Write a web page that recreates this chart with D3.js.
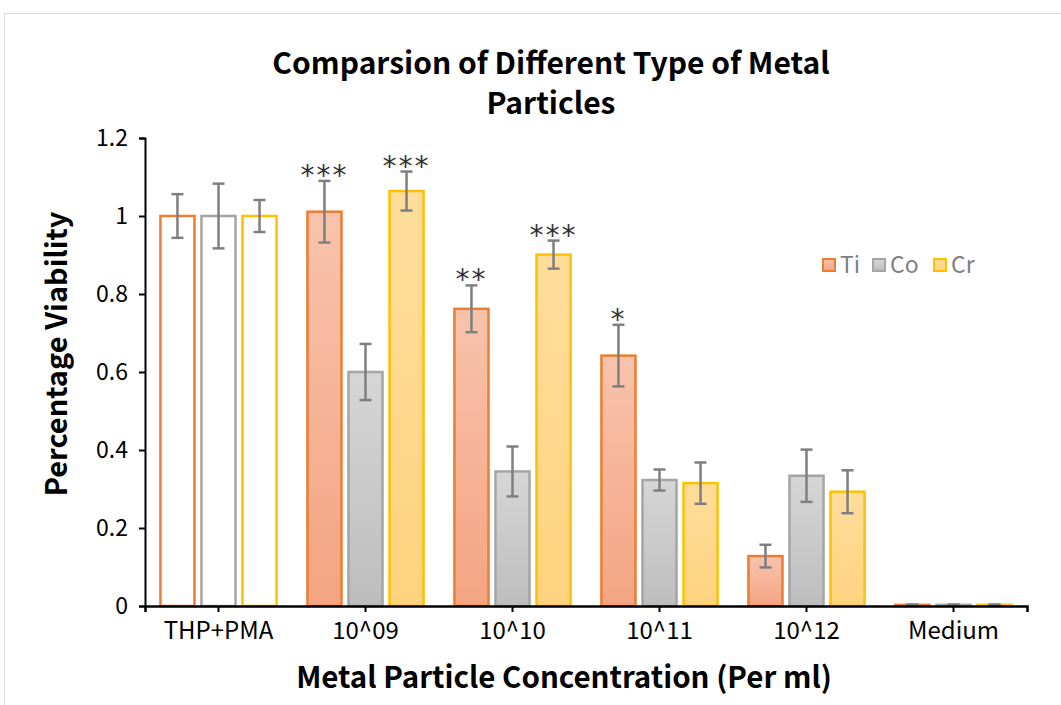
<!DOCTYPE html>
<html>
<head>
<meta charset="utf-8">
<script src="https://cdn.jsdelivr.net/npm/d3@7"></script>
<style>
  body { margin: 0; background: #fff; }
  text { font-family: "Noto Sans CJK SC", "Noto Sans", sans-serif; }
</style>
</head>
<body>
<div id="chart"></div>
<script>
const categories = ["THP+PMA", "10^09", "10^10", "10^11", "10^12", "Medium"];
const series = ["Ti", "Co", "Cr"];
const tiValues = [1.0, 1.011, 0.762, 0.642, 0.128, 0.003];
const coValues = [1.0, 0.600, 0.345, 0.323, 0.334, 0.003];
const crValues = [1.0, 1.064, 0.901, 0.315, 0.293, 0.003];
const tiErrors = [0.056, 0.079, 0.060, 0.079, 0.029, 0.001];
const coErrors = [0.083, 0.072, 0.064, 0.027, 0.067, 0.001];
const crErrors = [0.041, 0.050, 0.036, 0.053, 0.055, 0.001];
// significance marks, index = category
const tiStars = ["", "***", "**", "*", "", ""];
const coStars = ["", "", "", "", "", ""];
const crStars = ["", "***", "***", "", "", ""];
const yTicks = [0, 0.2, 0.4, 0.6, 0.8, 1, 1.2];

const width = 1061, height = 705;
const stroke = { Ti: "#ED7D31", Co: "#A5A5A5", Cr: "#FFC000" };
const gradTop = { Ti: "#F8C3AD", Co: "#D6D6D6", Cr: "#FFDD9C" };
const gradBot = { Ti: "#F4A482", Co: "#BDBDBD", Cr: "#FFD37F" };

const vals = { Ti: tiValues, Co: coValues, Cr: crValues };
const errs = { Ti: tiErrors, Co: coErrors, Cr: crErrors };
const stars = { Ti: tiStars, Co: coStars, Cr: crStars };

const rows = [];
categories.forEach((c, i) => {
  series.forEach(s => {
    rows.push({ cat: c, idx: i, s: s, v: vals[s][i], e: errs[s][i], star: stars[s][i] });
  });
});

const svg = d3.select("#chart").append("svg")
  .attr("width", width)
  .attr("height", height);

svg.append("rect").attr("width", width).attr("height", height).attr("fill", "#fff");
svg.append("rect")
  .attr("x", 4.5).attr("y", 13.5)
  .attr("width", width + 10).attr("height", height + 10)
  .attr("fill", "none").attr("stroke", "#d9d9d9").attr("stroke-width", 1);

const defs = svg.append("defs");
series.forEach(s => {
  const g = defs.append("linearGradient").attr("id", "grad-" + s)
    .attr("x1", 0).attr("y1", 0).attr("x2", 0).attr("y2", 1);
  g.append("stop").attr("offset", "0%").attr("stop-color", gradTop[s]);
  g.append("stop").attr("offset", "100%").attr("stop-color", gradBot[s]);
});

const x0 = d3.scaleBand()
  .domain(categories)
  .range([145, 1027])
  .paddingInner(0.21)
  .paddingOuter(0.105);

const x1 = d3.scaleBand()
  .domain(series)
  .range([0, x0.bandwidth()])
  .paddingInner(0.17);

const y = d3.scaleLinear().domain([0, 1.2]).range([606, 138]);

// bars
svg.append("g").selectAll("rect")
  .data(rows)
  .join("rect")
  .attr("x", d => x0(d.cat) + x1(d.s))
  .attr("y", d => y(d.v))
  .attr("width", x1.bandwidth())
  .attr("height", d => y(0) - y(d.v))
  .attr("fill", d => d.idx === 0 ? "#fff" : `url(#grad-${d.s})`)
  .attr("stroke", d => stroke[d.s])
  .attr("stroke-width", 2.5);

// error bars
const eb = svg.append("g").attr("stroke", "#7F7F7F").attr("stroke-width", 2.5).attr("fill", "none");
const cx = d => x0(d.cat) + x1(d.s) + x1.bandwidth() / 2;
eb.selectAll(".v").data(rows).join("line")
  .attr("x1", cx).attr("x2", cx)
  .attr("y1", d => y(d.v + d.e)).attr("y2", d => y(d.v - d.e));
eb.selectAll(".t").data(rows).join("line")
  .attr("x1", d => cx(d) - 6).attr("x2", d => cx(d) + 6)
  .attr("y1", d => y(d.v + d.e)).attr("y2", d => y(d.v + d.e));
eb.selectAll(".b").data(rows).join("line")
  .attr("x1", d => cx(d) - 6).attr("x2", d => cx(d) + 6)
  .attr("y1", d => y(d.v - d.e)).attr("y2", d => y(d.v - d.e));

// stars
svg.append("g").selectAll("text")
  .data(rows.filter(d => d.star))
  .join("text")
  .attr("x", cx)
  .attr("y", d => y(d.v + d.e) + 4)
  .attr("text-anchor", "middle")
  .attr("fill", "#333")
  .attr("font-size", 28)
  .attr("letter-spacing", 2)
  .style("font-family", "'DejaVu Sans', sans-serif")
  .text(d => d.star);

// y axis
const yAxis = svg.append("g")
  .attr("transform", "translate(145,0)")
  .call(d3.axisLeft(y).tickValues(yTicks).tickSize(6).tickPadding(11).tickFormat(d => d3.format("")(d)));
yAxis.select(".domain").attr("stroke", "#000").attr("stroke-width", 2);
yAxis.selectAll(".tick line").attr("stroke", "#000").attr("stroke-width", 2);
yAxis.selectAll(".tick text")
  .attr("font-size", 23).attr("fill", "#000")
  .style("font-family", "'Noto Sans CJK SC', sans-serif");

// x axis
const xAxis = svg.append("g")
  .attr("transform", `translate(0,${y(0)})`)
  .call(d3.axisBottom(x0).tickSize(6).tickPadding(10).tickSizeOuter(6));
xAxis.select(".domain").attr("stroke", "#000").attr("stroke-width", 2.5);
xAxis.selectAll(".tick line").attr("stroke", "#000").attr("stroke-width", 2);
xAxis.selectAll(".tick text")
  .attr("font-size", 24).attr("fill", "#000")
  .style("font-family", "'Noto Sans CJK SC', sans-serif");

// title
const title = svg.append("text")
  .attr("text-anchor", "middle")
  .attr("font-size", 30).attr("font-weight", "bold").attr("fill", "#000");
title.append("tspan").attr("x", 551).attr("y", 74).text("Comparsion of Different Type of Metal");
title.append("tspan").attr("x", 551).attr("y", 114).text("Particles");

// axis titles
svg.append("text")
  .attr("x", 564).attr("y", 688)
  .attr("text-anchor", "middle")
  .attr("font-size", 29.5).attr("font-weight", "bold").attr("fill", "#000")
  .text("Metal Particle Concentration (Per ml)");

svg.append("text")
  .attr("transform", "translate(67,354) rotate(-90)")
  .attr("text-anchor", "middle")
  .attr("font-size", 29).attr("font-weight", "bold").attr("fill", "#000")
  .text("Percentage Viability");

// legend
const legX = [823, 873, 934];
const leg = svg.append("g").selectAll("g")
  .data(series)
  .join("g")
  .attr("transform", (d, i) => `translate(${legX[i]},259)`);
leg.append("rect")
  .attr("width", 12).attr("height", 12)
  .attr("fill", d => `url(#grad-${d})`)
  .attr("stroke", d => stroke[d]).attr("stroke-width", 2);
leg.append("text")
  .attr("x", 17).attr("y", 6).attr("dy", "0.36em")
  .attr("font-size", 23).attr("fill", "#7F7F7F")
  .text(d => d);
</script>
</body>
</html>
